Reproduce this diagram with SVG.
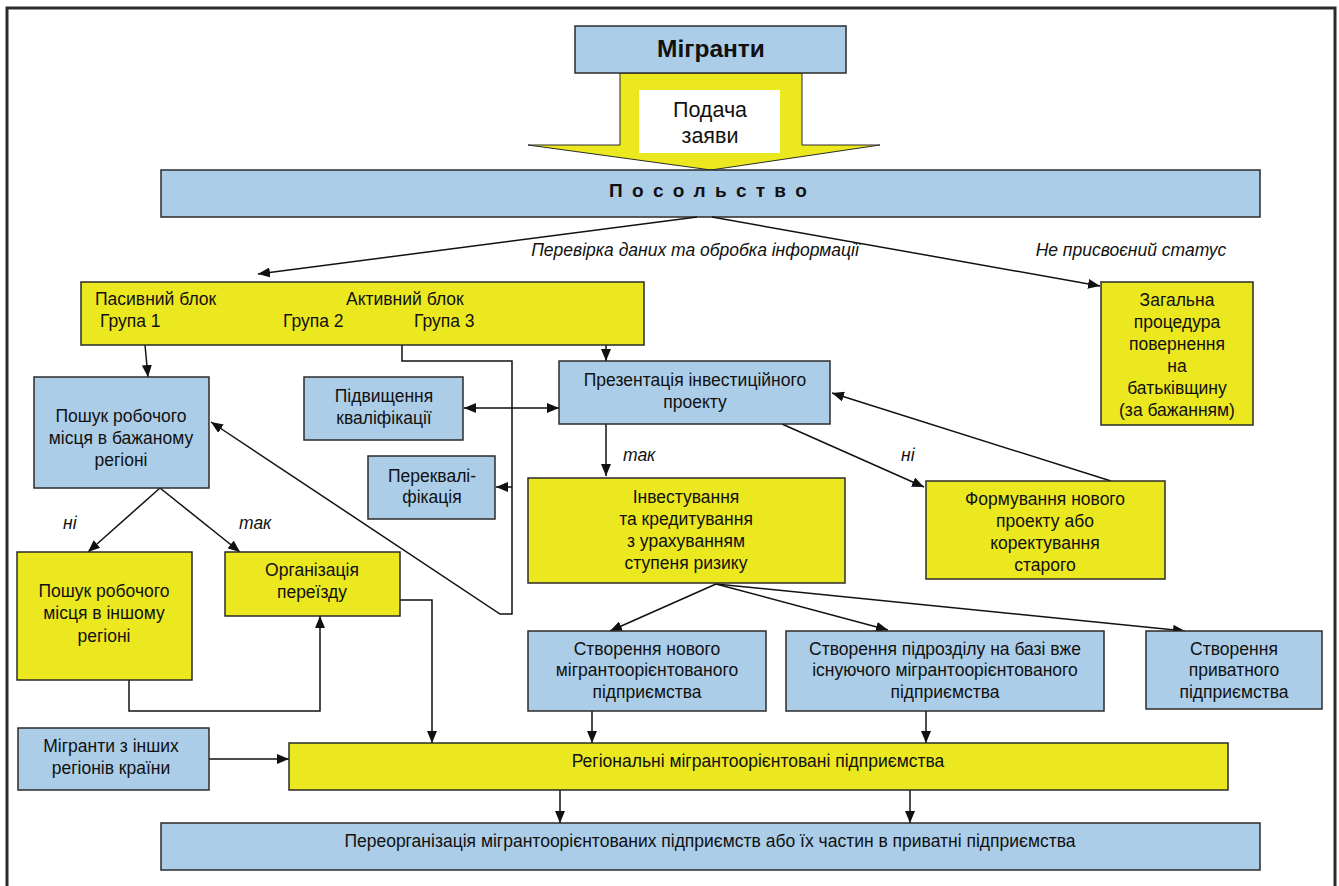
<svg xmlns="http://www.w3.org/2000/svg" width="1339" height="886" viewBox="0 0 1339 886">
<defs>
<style>
.b{fill:#abcde8;stroke:#2b2b2b;stroke-width:1.5}
.y{fill:#ece81f;stroke:#2b2b2b;stroke-width:1.5}
text{font-family:"Liberation Sans",Arial,sans-serif;font-size:17.5px;fill:#111}
.c{text-anchor:middle}
.i{font-style:italic}
.ln{fill:none;stroke:#111;stroke-width:1.5}
</style>
<marker id="ah" viewBox="0 0 12 10" refX="12" refY="5" markerWidth="12" markerHeight="10" markerUnits="userSpaceOnUse" orient="auto-start-reverse"><path d="M0,0 L12,5 L0,10 z" fill="#111"/></marker>
</defs>
<rect x="0" y="0" width="1339" height="886" fill="#fff"/>
<rect x="7" y="8" width="1328" height="900" fill="none" stroke="#2b2b2b" stroke-width="3"/>

<g id="arrow-submit">
<path d="M620,73 L802,73 L802,145 L880,145 L711,170 L528,145 L620,145 Z" fill="#ece81f" stroke="#2b2b2b" stroke-width="1"/>
<rect x="639" y="90" width="141" height="63" fill="#fff"/>
<text class="c" x="710" y="117" style="font-size:21.5px">Подача</text>
<text class="c" x="710" y="143" style="font-size:21.5px">заяви</text>
</g>
<g id="migrants"><rect class="b" x="575" y="26" width="271" height="47"/><text class="c" x="711" y="57" style="font-size:24.5px;font-weight:bold">Мігранти</text></g>
<g id="embassy"><rect class="b" x="161" y="170" width="1099" height="47"/><text class="c" x="709" y="197" style="font-size:19px;font-weight:bold;letter-spacing:2px">П о с о л ь с т в о</text></g>

<g id="connectors">
<line class="ln" x1="697" y1="217" x2="258" y2="274" marker-end="url(#ah)"/>
<line class="ln" x1="712" y1="217" x2="1100" y2="286" marker-end="url(#ah)"/>
<line class="ln" x1="145" y1="345" x2="148" y2="377" marker-end="url(#ah)"/>
<polyline class="ln" points="402,345 402,361 512,361 512,614 500,614 211,422" marker-end="url(#ah)"/>
<line class="ln" x1="512" y1="487" x2="496" y2="487" marker-end="url(#ah)"/>
<line class="ln" x1="606" y1="345" x2="606" y2="361" marker-end="url(#ah)"/>
<line class="ln" x1="464" y1="408" x2="559" y2="408" marker-start="url(#ah)" marker-end="url(#ah)"/>
<line class="ln" x1="606" y1="424" x2="606" y2="476" marker-end="url(#ah)"/>
<line class="ln" x1="782" y1="424" x2="924" y2="487" marker-end="url(#ah)"/>
<line class="ln" x1="1111" y1="481" x2="832" y2="393" marker-end="url(#ah)"/>
<line class="ln" x1="160" y1="488" x2="88" y2="552" marker-end="url(#ah)"/>
<line class="ln" x1="160" y1="488" x2="240" y2="552" marker-end="url(#ah)"/>
<polyline class="ln" points="129,680 129,711 320,711 320,616" marker-end="url(#ah)"/>
<polyline class="ln" points="400,600 432,600 432,743" marker-end="url(#ah)"/>
<line class="ln" x1="716" y1="584" x2="610" y2="631" marker-end="url(#ah)"/>
<line class="ln" x1="716" y1="584" x2="888" y2="630" marker-end="url(#ah)"/>
<line class="ln" x1="716" y1="584" x2="1185" y2="631" marker-end="url(#ah)"/>
<line class="ln" x1="592" y1="711" x2="592" y2="743" marker-end="url(#ah)"/>
<line class="ln" x1="926" y1="711" x2="926" y2="743" marker-end="url(#ah)"/>
<line class="ln" x1="209" y1="759" x2="289" y2="759" marker-end="url(#ah)"/>
<line class="ln" x1="560" y1="790" x2="560" y2="823" marker-end="url(#ah)"/>
<line class="ln" x1="910" y1="790" x2="910" y2="823" marker-end="url(#ah)"/>
<text class="c i" x="695" y="256">Перевірка даних та обробка інформації</text>
<text class="c i" x="1131" y="256">Не присвоєний статус</text>
<text class="i" x="623" y="461">так</text>
<text class="i" x="901" y="461">ні</text>
<text class="i" x="63" y="529">ні</text>
<text class="i" x="239" y="529">так</text>
</g>

<g id="blocks"><rect class="y" x="81" y="282" width="563" height="63"/>
<text x="95" y="305">Пасивний блок</text><text x="346" y="305">Активний блок</text>
<text x="100" y="327">Група 1</text><text x="283" y="327">Група 2</text><text x="414" y="327">Група 3</text></g>

<g id="return"><rect class="y" x="1101" y="282" width="152" height="143"/>
<text class="c" x="1177" y="306">Загальна</text><text class="c" x="1177" y="328">процедура</text><text class="c" x="1177" y="350">повернення</text><text class="c" x="1177" y="372">на</text><text class="c" x="1177" y="394">батьківщину</text><text class="c" x="1177" y="416">(за бажанням)</text></g>

<g id="search-desired"><rect class="b" x="34" y="377" width="175" height="111"/>
<text class="c" x="121" y="422">Пошук робочого</text><text class="c" x="121" y="444">місця в бажаному</text><text class="c" x="121" y="466">регіоні</text></g>

<g id="upskill"><rect class="b" x="304" y="377" width="159" height="63"/>
<text class="c" x="384" y="402">Підвищення</text><text class="c" x="384" y="424">кваліфікації</text></g>

<g id="requalify"><rect class="b" x="368" y="456" width="127" height="63"/>
<text class="c" x="432" y="482">Переквалі-</text><text class="c" x="432" y="503">фікація</text></g>

<g id="presentation"><rect class="b" x="559" y="361" width="271" height="63"/>
<text class="c" x="695" y="386">Презентація інвестиційного</text><text class="c" x="695" y="408">проекту</text></g>

<g id="investing"><rect class="y" x="528" y="478" width="317" height="105"/>
<text class="c" x="686" y="503">Інвестування</text><text class="c" x="686" y="525">та кредитування</text><text class="c" x="686" y="547">з урахуванням</text><text class="c" x="686" y="569">ступеня ризику</text></g>

<g id="new-project"><rect class="y" x="926" y="481" width="239" height="98"/>
<text class="c" x="1045" y="505">Формування нового</text><text class="c" x="1045" y="527">проекту або</text><text class="c" x="1045" y="549">коректування</text><text class="c" x="1045" y="571">старого</text></g>

<g id="search-other"><rect class="y" x="17" y="552" width="175" height="128"/>
<text class="c" x="104" y="597">Пошук робочого</text><text class="c" x="104" y="619">місця в іншому</text><text class="c" x="104" y="642">регіоні</text></g>

<g id="relocation"><rect class="y" x="225" y="552" width="175" height="64"/>
<text class="c" x="312" y="576">Організація</text><text class="c" x="312" y="598">переїзду</text></g>

<g id="create-new"><rect class="b" x="528" y="631" width="238" height="80"/>
<text class="c" x="647" y="655">Створення нового</text><text class="c" x="647" y="676">мігрантоорієнтованого</text><text class="c" x="647" y="698">підприємства</text></g>

<g id="create-unit"><rect class="b" x="786" y="631" width="318" height="80"/>
<text class="c" x="945" y="655">Створення підрозділу на базі вже</text><text class="c" x="945" y="676">існуючого мігрантоорієнтованого</text><text class="c" x="945" y="698">підприємства</text></g>

<g id="create-private"><rect class="b" x="1146" y="631" width="176" height="78"/>
<text class="c" x="1234" y="655">Створення</text><text class="c" x="1234" y="676">приватного</text><text class="c" x="1234" y="698">підприємства</text></g>

<g id="other-regions"><rect class="b" x="18" y="728" width="191" height="62"/>
<text class="c" x="111" y="752">Мігранти з інших</text><text class="c" x="111" y="774">регіонів країни</text></g>

<g id="regional"><rect class="y" x="289" y="743" width="939" height="47"/>
<text class="c" x="758" y="767">Регіональні мігрантоорієнтовані підприємства</text></g>

<g id="reorganization"><rect class="b" x="161" y="823" width="1099" height="47"/>
<text class="c" x="710" y="847">Переорганізація мігрантоорієнтованих підприємств або їх частин в приватні підприємства</text></g>
</svg>
